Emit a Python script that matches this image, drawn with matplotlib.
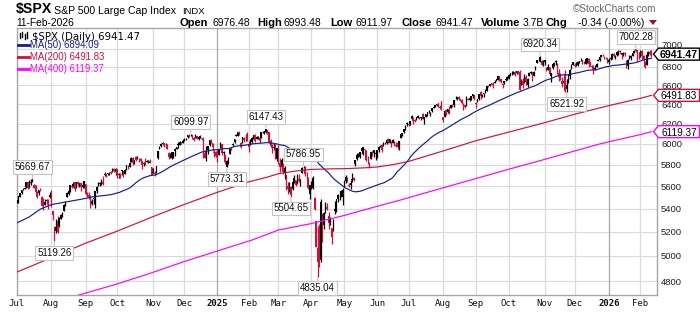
import numpy as np
import pandas as pd
import matplotlib
matplotlib.use("Agg")
import matplotlib.pyplot as plt
from matplotlib.patches import Polygon
from matplotlib.ticker import NullLocator

# ------------------------------------------------------------------ data
month_labels = ['Jul', 'Aug', 'Sep', 'Oct', 'Nov', 'Dec', '2025', 'Feb', 'Mar', 'Apr', 'May', 'Jun',
                'Jul', 'Aug', 'Sep', 'Oct', 'Nov', 'Dec', '2026', 'Feb']
month_days = [22, 22, 20, 23, 20, 21, 20, 19, 21, 21, 21, 20, 22, 21, 21, 23, 19, 22, 20, 8]

open_ = [
    5471,5469,5507,5537,5572,5585,5591,5635,5591,5638,5645,5610,5608,5544,5543,5566,5505,5428,5434,5477,5478,5506,
    5537,5376,5151,5206,5293,5253,5313,5352,5376,5442,5502,5530,5558,5603,5603,5637,5602,5639,5602,5629,5608,5612,
    5623,5506,5521,5507,5443,5483,5496,5557,5604,5616,5655,5641,5703,5709,5711,5727,5733,5762,5755,5727,
    5758,5699,5688,5737,5737,5714,5751,5778,5775,5828,5866,5816,5872,5860,5858,5833,5835,5817,5826,5832,5819,5835,5776,
    5723,5725,5722,5865,5947,5977,6009,6003,5985,5990,5912,5874,5860,5914,5933,5947,5993,5992,6015,6003,
    6040,6042,6069,6089,6082,6084,6058,6061,6074,6069,6064,6053,6047,5913,5842,5940,5985,6024,6007,5921,5920,
    5903,5891,5982,5994,5911,5890,5782,5859,5905,5956,5986,6015,6081,6076,6121,5970,6027,6058,6067,6096,
    5970,5998,6021,6073,6083,6047,6049,6026,6061,6115,6121,6118,6134,6115,6026,5983,5971,5981,5857,
    5968,5812,5781,5785,5726,5705,5604,5624,5595,5575,5635,5655,5632,5646,5630,5718,5776,5771,5695,5679,5527,
    5597,5580,5492,5292,4953,5193,4966,5353,5256,5441,5411,5335,5305,5232,5207,5395,5381,5489,5529,5509,5500,
    5626,5646,5656,5606,5613,5655,5671,5808,5854,5886,5870,5929,5903,5945,5915,5842,5782,5855,5926,5939,5903,
    5897,5938,5979,5985,5987,6004,6010,6050,6009,5997,6005,6012,5986,6004,5970,6061,6104,6112,6151,6193,
    6188,6194,6247,6260,6233,6240,6261,6256,6252,6296,6250,6264,6315,6304,6307,6326,6368,6371,6397,6409,6375,6428,
    6271,6272,6336,6316,6366,6361,6389,6392,6462,6454,6478,6446,6446,6405,6387,6389,6457,6438,6455,6483,6494,
    6401,6443,6452,6530,6489,6504,6547,6540,6590,6596,6626,6611,6626,6647,6655,6698,6667,6607,6622,6662,6659,
    6668,6732,6722,6735,6747,6727,6754,6740,6617,6603,6682,6686,6600,6695,6736,6742,6704,6778,6841,6885,6907,6867,6869,
    6873,6790,6769,6796,6701,6785,6820,6864,6830,6689,6723,6647,6623,6719,6555,6625,6697,6782,6822,
    6812,6830,6815,6867,6866,6872,6845,6835,6866,6889,6853,6812,6810,6791,6800,6865,6880,6912,6937,6910,6903,6897,
    6878,6885,6905,6946,6905,6930,6945,6975,6950,6955,6955,6850,6810,6905,6900,6925,6960,6995,6985,6945,
    6925,6980,6925,6850,6820,6925,6968,6976.48,
]
high = [
    5479,5510,5540,5570,5583,5590,5635,5642,5655,5666,5670,5622,5614,5555,5566,5585,5508,5491,5488,5487,5489,5551,
    5566,5383,5250,5312,5331,5327,5356,5372,5436,5464,5546,5562,5608,5620,5643,5643,5641,5651,5632,5633,5647,5651,
    5623,5552,5546,5522,5484,5497,5561,5600,5636,5637,5670,5690,5734,5716,5722,5735,5741,5767,5764,5765,
    5758,5720,5718,5753,5739,5757,5797,5796,5822,5871,5871,5842,5879,5878,5862,5863,5835,5822,5862,5842,5848,5851,5776,
    5772,5742,5784,5933,5983,6012,6018,6009,6008,5995,5916,5908,5920,5920,5963,5973,6020,6025,6021,6044,
    6054,6053,6089,6093,6100,6089,6065,6093,6080,6079,6086,6058,6071,5936,5982,5978,6041,6049,6007,5941,5929,
    5935,5949,6022,6001,5928,5891,5843,5871,5961,5964,6012,6051,6101,6119,6128,6018,6070,6062,6086,6121,
    6023,6042,6062,6084,6101,6073,6076,6063,6117,6128,6130,6147,6135,6118,6043,5993,6010,5994,5959,
    5986,5866,5860,5812,5783,5706,5636,5642,5598,5645,5704,5659,5716,5711,5670,5775,5787,5783,5732,5685,5613,
    5651,5695,5501,5292,5247,5267,5481,5353,5369,5460,5450,5367,5329,5233,5309,5469,5485,5528,5554,5562,5581,
    5659,5700,5684,5632,5654,5721,5683,5845,5906,5906,5920,5958,5968,5953,5939,5878,5829,5922,5930,5943,5922,
    5938,5981,5991,5999,6017,6022,6043,6059,6045,6027,6051,6023,6019,6019,6028,6101,6108,6146,6187,6216,
    6210,6227,6285,6262,6243,6269,6290,6268,6270,6303,6266,6301,6316,6336,6317,6360,6381,6390,6401,6410,6393,6428,
    6271,6330,6347,6350,6379,6395,6401,6446,6481,6472,6482,6457,6456,6407,6393,6481,6466,6467,6487,6508,6494,
    6417,6453,6503,6533,6508,6514,6556,6592,6601,6616,6627,6638,6656,6671,6698,6700,6669,6623,6648,6674,6694,
    6718,6732,6750,6749,6749,6754,6759,6764,6665,6680,6722,6709,6681,6744,6752,6745,6753,6807,6878,6899,6920,6875,6871,
    6876,6794,6830,6803,6730,6841,6850,6871,6838,6776,6735,6684,6680,6770,6665,6717,6777,6829,6853,
    6843,6851,6862,6869,6895,6878,6863,6899,6902,6902,6856,6816,6820,6818,6845,6885,6911,6937,6945,6917,6911,6901,
    6900,6915,6950,6960,6935,6975,6985,6986,6952,6970,6965,6880,6890,6930,6930,6960,6990,7002,6990,6965,
    6985,6990,6935,6860,6940,6975,6985,6993.48,
]
low = [
    5446,5453,5507,5531,5562,5574,5587,5571,5583,5614,5640,5584,5522,5497,5524,5553,5419,5390,5430,5444,5398,5494,
    5411,5302,5119,5193,5191,5242,5307,5326,5376,5420,5501,5525,5550,5585,5590,5560,5586,5602,5594,5561,5586,5582,
    5521,5503,5486,5403,5434,5442,5406,5536,5601,5605,5614,5615,5690,5687,5703,5699,5716,5728,5728,5703,
    5675,5675,5678,5704,5684,5713,5749,5763,5775,5825,5800,5808,5834,5849,5822,5817,5762,5784,5800,5823,5814,5811,5703,
    5723,5696,5722,5854,5946,5971,5986,5967,5965,5946,5854,5866,5853,5860,5884,5946,5963,5985,5995,6003,
    6032,6034,6061,6071,6076,6048,6026,6060,6049,6034,6059,6036,5867,5866,5833,5903,5983,6007,5932,5869,5869,
    5829,5888,5961,5890,5874,5809,5773,5802,5904,5938,5978,6006,6077,6075,6088,5962,6006,6014,6028,6030,
    5923,5990,6008,6051,6019,6044,6042,6004,6052,6104,6099,6111,6094,6009,5977,5909,5935,5858,5837,
    5810,5732,5743,5711,5667,5565,5529,5546,5505,5563,5628,5598,5622,5640,5603,5718,5763,5695,5670,5573,5489,
    5572,5571,5391,5070,4835,4911,4948,5115,5220,5359,5387,5220,5255,5101,5207,5356,5371,5456,5478,5505,5434,
    5597,5631,5640,5590,5578,5640,5644,5788,5843,5868,5867,5908,5895,5912,5830,5810,5768,5855,5886,5875,5843,
    5862,5920,5967,5921,5978,5994,6000,6003,6003,5964,6004,5975,5971,5953,5943,6055,6080,6108,6133,6175,
    6178,6188,6245,6201,6216,6236,6252,6242,6237,6242,6201,6262,6282,6303,6282,6317,6360,6367,6376,6366,6347,6336,
    6212,6272,6289,6310,6300,6355,6365,6374,6455,6441,6444,6437,6397,6343,6360,6385,6438,6435,6447,6465,6444,
    6361,6422,6446,6454,6479,6477,6516,6535,6576,6589,6598,6570,6620,6643,6653,6645,6618,6568,6613,6641,6651,
    6663,6699,6706,6726,6699,6717,6718,6550,6599,6570,6628,6601,6584,6694,6718,6647,6702,6766,6841,6862,6855,6817,6806,
    6822,6752,6765,6706,6631,6781,6812,6821,6726,6646,6651,6585,6605,6530,6522,6622,6669,6776,6818,
    6800,6808,6810,6837,6859,6835,6836,6826,6839,6801,6812,6775,6719,6768,6797,6862,6867,6910,6921,6892,6888,6844,
    6827,6878,6890,6910,6888,6920,6935,6943,6890,6925,6920,6789,6780,6890,6880,6915,6955,6965,6870,6890,
    6910,6880,6850,6785,6815,6915,6930,6911.97,
]
close = [
    5475,5509,5537,5567,5573,5577,5634,5585,5615,5631,5667,5588,5545,5505,5564,5556,5427,5399,5459,5464,5436,5522,
    5447,5347,5186,5240,5200,5319,5344,5344,5434,5455,5543,5554,5608,5597,5621,5571,5635,5617,5626,5592,5592,5648,
    5529,5520,5503,5408,5471,5496,5554,5596,5626,5633,5635,5618,5714,5703,5719,5733,5722,5745,5738,5762,
    5709,5710,5700,5751,5696,5751,5792,5780,5815,5860,5815,5842,5841,5865,5854,5851,5797,5810,5808,5824,5833,5814,5705,
    5729,5713,5783,5929,5973,5996,6001,5984,5985,5949,5871,5894,5917,5917,5949,5969,5987,6022,5999,6032,
    6047,6050,6086,6075,6090,6053,6035,6084,6051,6051,6074,6051,5872,5867,5931,5974,6040,6038,5971,5907,5882,
    5869,5942,5975,5909,5918,5827,5836,5843,5950,5937,5997,6049,6086,6119,6101,6012,6068,6039,6071,6041,
    5995,6038,6061,6084,6026,6066,6069,6052,6115,6115,6130,6144,6118,6013,5983,5955,5956,5862,5955,
    5850,5778,5843,5739,5770,5615,5572,5599,5522,5639,5675,5615,5675,5663,5668,5768,5777,5712,5693,5581,5612,
    5633,5671,5397,5074,5062,4983,5457,5268,5363,5406,5397,5276,5283,5158,5288,5376,5485,5525,5529,5561,5569,
    5604,5687,5650,5607,5631,5664,5660,5844,5887,5893,5917,5958,5964,5940,5845,5842,5803,5922,5889,5912,5912,
    5936,5970,5971,5939,6000,6006,6039,6022,6045,5977,6033,5983,5981,5968,6025,6092,6092,6141,6173,6205,
    6198,6227,6279,6230,6226,6263,6280,6260,6269,6244,6264,6297,6297,6306,6310,6359,6363,6389,6390,6371,6363,6339,
    6238,6330,6299,6345,6340,6389,6373,6446,6467,6469,6450,6449,6411,6396,6370,6467,6439,6466,6481,6502,6460,
    6416,6448,6502,6482,6495,6513,6532,6587,6584,6615,6607,6600,6632,6664,6694,6657,6638,6605,6644,6661,6688,
    6711,6715,6716,6740,6715,6754,6735,6553,6655,6644,6671,6629,6664,6735,6735,6699,6738,6792,6875,6891,6891,6822,6840,
    6852,6772,6796,6720,6729,6832,6847,6851,6737,6734,6672,6617,6642,6539,6603,6705,6766,6813,6849,
    6813,6829,6850,6857,6870,6847,6841,6887,6901,6827,6817,6800,6721,6775,6835,6878,6910,6932,6930,6906,6896,6846,
    6858,6902,6944,6921,6921,6966,6977,6963,6927,6944,6940,6797,6875,6913,6916,6950,6979,6978,6969,6939,
    6976,6918,6883,6798,6932,6964,6942,6941.47,
]

# moving averages (trading-day index, value)
ma50_early_idx = [0, 8, 15, 22, 32, 42]
ma50_early_val = [5275, 5328, 5395, 5435, 5460, 5485]
ma200_idx = [0, 22, 44, 64, 87, 107, 128, 148, 159, 167, 178, 188, 200, 209, 222, 230, 240, 250,
             272, 293, 314, 337, 356, 378, 398, 405]
ma200_val = [4870, 4985, 5105, 5205, 5330, 5437, 5545, 5640, 5680, 5715, 5740, 5755, 5760, 5762,
             5770, 5778, 5800, 5830, 5930, 6030, 6115, 6210, 6295, 6385, 6460, 6491.83]
ma400_idx = [30, 42, 64, 85, 107, 128, 150, 167, 188, 209, 230, 245, 272, 293, 314, 337, 356, 372,
             378, 398, 405]
ma400_val = [4660, 4700, 4777, 4860, 4955, 5040, 5130, 5215, 5270, 5340, 5420, 5476, 5585, 5670,
             5757, 5850, 5930, 5998, 6020, 6090, 6119.37]

# labelled highs / lows
ann_idx = [10, 24, 111, 134, 159, 175, 183, 192, 334, 351, 395]
ann_val = [5669.67, 5119.26, 6099.97, 5773.31, 6147.43, 5504.65, 5786.95, 4835.04, 6920.34, 6521.92, 7002.28]
ann_above = [True, False, True, False, True, False, True, False, True, False, True]

y_levels = [4800, 5000, 5200, 5400, 5600, 5800, 6000, 6200, 6400, 6600, 6800, 7000]
last_vals = [6941.47, 6894.09, 6491.83, 6119.37]

header_pieces = [("Open", True, 180), ("6976.48", False, 212), ("High", True, 257), ("6993.48", False, 284),
                 ("Low", True, 330), ("6911.97", False, 356), ("Close", True, 402), ("6941.47", False, 436),
                 ("Volume", True, 481), ("3.7B", False, 523), ("Chg", True, 546), ("-0.34 (-0.00%)", False, 578)]

# ------------------------------------------------------------------ setup
assert len(open_) == len(high) == len(low) == len(close) == sum(month_days)
o = np.array(open_, float); h = np.array(high, float)
l = np.array(low, float); c = np.array(close, float)
n = len(c)
x = np.arange(n)

RED = '#d0103c'
NAVY = '#141e8c'
MAG = '#ff00ff'
GRID = '#dadada'
W, H = 700, 312
SANS = 'Liberation Sans'

fig = plt.figure(figsize=(7, 3.12), dpi=100)
fig.patch.set_facecolor('white')
ax = fig.add_axes([16.5 / W, 17 / H, (657 - 16.5) / W, 267 / H])
ax.set_yscale('log')
ax.set_xlim(-0.2, 408.6)
ax.set_ylim(4692, 7243)
ax.yaxis.set_minor_locator(NullLocator())
ax.set_yticks([]); ax.set_xticks([])
for s in ax.spines.values():
    s.set_color('#a6a6a6'); s.set_linewidth(1.0)

month_pos = np.concatenate([[0], np.cumsum(month_days)[:-1]])
for v in y_levels:
    ax.axhline(v, color=GRID, lw=0.8, zorder=0)
for p, lab in zip(month_pos, month_labels):
    ax.axvline(p, color='#a9a9a9' if lab.isdigit() else GRID, lw=0.9, zorder=0)

# candles
prev = np.concatenate([[o[0]], c[:-1]])
cols = np.where(c >= prev, 'black', RED)
ax.vlines(x, l, h, colors=cols, lw=0.9, zorder=3)
blo = np.minimum(o, c); bhi = np.maximum(o, c)
ax.bar(x, np.maximum(bhi - blo, 3), bottom=blo, width=0.95, color=cols, lw=0, zorder=3)

# moving averages
ma50_roll = pd.Series(c).rolling(50).mean().to_numpy()
ma50_x = list(ma50_early_idx) + list(x[49:])
ma50_y = list(ma50_early_val) + list(ma50_roll[49:])
ax.plot(ma50_x, ma50_y, color=NAVY, lw=0.85, zorder=4)
ax.plot(ma200_idx, ma200_val, color=RED, lw=0.85, zorder=4)
ax.plot(ma400_idx, ma400_val, color=MAG, lw=0.85, zorder=4)

# high/low call-outs
for i, v, up in zip(ann_idx, ann_val, ann_above):
    ax.annotate(f"{v:.2f}", xy=(i, v), xytext=(0, 8.4 if up else -8.4), textcoords='offset points',
                ha='center', va='center', fontsize=7, family=SANS, color='#111111',
                bbox=dict(boxstyle='square,pad=0.18', fc='white', ec='#c4c4c4', lw=0.8),
                arrowprops=dict(arrowstyle='-', color='#c4c4c4', lw=0.8, shrinkA=0, shrinkB=0.5),
                zorder=7, annotation_clip=False)


def ypix(v):
    return ax.transData.transform((0, v))[1]


def xpix(i):
    return ax.transData.transform((i, 5000))[0]


def ftext(xp, yp_top, s, **kw):
    return fig.text(xp / W, 1 - yp_top / H, s, **kw)


# y tick labels (the 7000 one sits partly behind the last-price tag, as in the original)
for v in y_levels:
    yc = ypix(v)
    if v == 7000:
        yc += 4
    fig.text(661 / W, yc / H, f"{v}", ha='left', va='center_baseline', fontsize=6.8,
             family=SANS, color='#222222')
# month labels
for p, lab in zip(month_pos, month_labels):
    fig.text(xpix(p) / W, 1 - 306.5 / H, lab, ha='center', va='baseline', fontsize=6.5,
             family='DejaVu Sans Mono', color='#111111',
             fontweight='bold' if lab.isdigit() else 'normal')


# right-side value tags
def tag(v, txt, ec, bold):
    yc = ypix(v)
    pts = [(653.5, yc), (658.5, yc - 6), (699.5, yc - 6), (699.5, yc + 6), (658.5, yc + 6)]
    fig.add_artist(Polygon([(a / W, b / H) for a, b in pts], closed=True, transform=fig.transFigure,
                           fc='white', ec=ec, lw=1.0, zorder=5))
    fig.text(679 / W, yc / H, txt, ha='center', va='center_baseline', fontsize=7.6 if bold else 7.2,
             family=SANS, fontweight='bold' if bold else 'normal', color='black', zorder=6)


tag(last_vals[0], f"{last_vals[0]:.2f}", 'black', True)
tag(last_vals[2], f"{last_vals[2]:.2f}", RED, False)
tag(last_vals[3], f"{last_vals[3]:.2f}", MAG, False)

# header
ftext(16, 13.5, "$SPX", fontsize=10.2, fontweight='bold', family=SANS, va='baseline')
ftext(54, 13.5, "S&P 500 Large Cap Index", fontsize=7.6, family=SANS, va='baseline')
ftext(182, 13.5, "INDX", fontsize=6.8, family=SANS, va='baseline')
ftext(16, 25.5, "11-Feb-2026", fontsize=7.4, family=SANS, va='baseline')
ftext(656, 12.5, "\u00a9StockCharts.com", fontsize=7.2, family=SANS, va='baseline', ha='right',
      color='#666666')
for s, b, xp in header_pieces:
    ftext(xp, 26, s, fontsize=8 if b else 7.5, family=SANS, va='baseline',
          fontweight='bold' if b else 'normal')
fig.add_artist(Polygon([(649 / W, 1 - 20 / H), (657 / W, 1 - 20 / H), (653 / W, 1 - 25 / H)],
                       closed=True, transform=fig.transFigure, fc='#8b1a2e', ec='none'))

# legend (inside plot)
for xx, y0, y1, cc in [(19.5, 33, 38, 'black'), (22, 32, 37, 'black'), (24.5, 34, 39, 'black'),
                       (27, 32, 38, 'black')]:
    fig.add_artist(plt.Line2D([xx / W, xx / W], [1 - y0 / H, 1 - y1 / H], transform=fig.transFigure,
                              color=cc, lw=1.0))
ftext(32, 39.5, f"$SPX (Daily) {last_vals[0]:.2f}", fontsize=7.3, family='DejaVu Sans', va='baseline')
for k, (lab, col, yb) in enumerate([("MA(50)", NAVY, 48.5), ("MA(200)", RED, 60.5), ("MA(400)", MAG, 72)]):
    fig.add_artist(plt.Line2D([17.5 / W, 29 / W], [1 - (yb - 3.5) / H] * 2, transform=fig.transFigure,
                              color=col, lw=2.0))
    ftext(30, yb, f"{lab} {last_vals[k + 1]:.2f}", fontsize=6.9, family=SANS, va='baseline', color=col)

fig.savefig("out.png", dpi=100, facecolor='white')
